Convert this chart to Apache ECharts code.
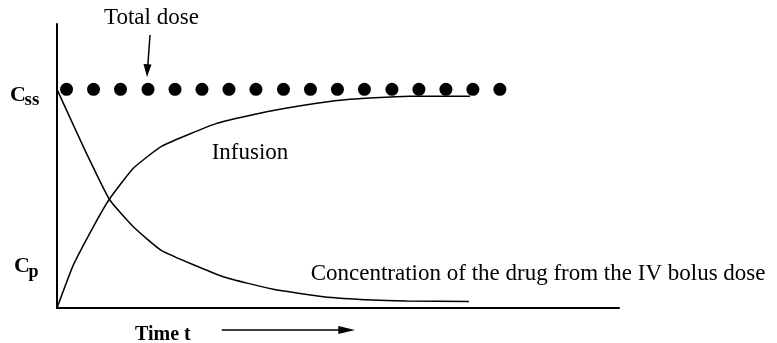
<!DOCTYPE html>
<html>
<head>
<meta charset="utf-8">
<script src="https://cdn.jsdelivr.net/npm/echarts@6/dist/echarts.min.js"></script>
<style>html,body{margin:0;padding:0;background:#fff}#c{width:777px;height:343px}</style>
</head>
<body>
<div id="c"></div>
<script>
// Total dose markers (time, level)
var doseTimes = [1.7, 6.5, 11.3, 16.2, 21.0, 25.8, 30.6, 35.4, 40.3, 45.1, 49.9, 54.7, 59.6, 64.4, 69.2, 74.0, 78.8];
var doseLevel = 77.0;
// IV bolus concentration curve
var bolusT = [0, 4.68, 9.31, 13.58, 18.63, 29.59, 38.49, 47.38, 56.23, 62.22, 73.3];
var bolusC = [77.0, 56.8, 38.3, 28.6, 20.2, 11.0, 6.6, 4.0, 2.8, 2.5, 2.3];
// Infusion curve
var infT = [0, 2.9, 6.46, 9.31, 13.58, 18.68, 28.42, 37.31, 46.21, 52.14, 62.81, 73.49];
var infC = [0, 15.1, 28.6, 38.3, 49.2, 57.0, 65.0, 69.1, 72.1, 73.5, 74.6, 74.6];

function pairs(a, b) { return a.map(function (v, i) { return [v, b[i]]; }); }
var dots = doseTimes.map(function (t) { return [t, doseLevel]; });

var serif = '"Liberation Serif", "Times New Roman", serif';
function txt(text, x, y, size, bold) {
  return {
    type: 'text', x: x, y: y, silent: true,
    style: {
      text: text, fontFamily: serif, fontSize: size, fontWeight: bold ? 'bold' : 'normal',
      fill: '#000', align: 'left', verticalAlign: 'middle'
    }
  };
}

var chart = echarts.init(document.getElementById('c'), null, { renderer: 'canvas' });
chart.setOption({
  animation: false,
  backgroundColor: '#fff',
  grid: { left: 57, right: 158, top: 24, bottom: 35 },
  xAxis: {
    type: 'value', min: 0, max: 100,
    axisLine: { show: true, lineStyle: { color: '#000', width: 2 } },
    axisTick: { show: false }, axisLabel: { show: false }, splitLine: { show: false }
  },
  yAxis: {
    type: 'value', min: 0, max: 100,
    axisLine: { show: true, lineStyle: { color: '#000', width: 2 } },
    axisTick: { show: false }, axisLabel: { show: false }, splitLine: { show: false }
  },
  series: [
    {
      type: 'line', data: pairs(bolusT, bolusC), showSymbol: false, smooth: 0.15,
      lineStyle: { color: '#000', width: 1.5 }, silent: true
    },
    {
      type: 'line', data: pairs(infT, infC), showSymbol: false, smooth: 0.15,
      lineStyle: { color: '#000', width: 1.5 }, silent: true
    },
    {
      type: 'scatter', data: dots, symbol: 'circle', symbolSize: 13,
      itemStyle: { color: '#000', opacity: 1 }, silent: true, z: 5
    }
  ],
  graphic: [
    txt('Total dose', 104, 18.2, 23, false),
    txt('Infusion', 211.7, 153.2, 23, false),
    txt('Concentration of the drug from the IV bolus dose', 310.7, 274, 23, false),
    txt('C', 10, 95.3, 22, true),
    txt('ss', 24.5, 100.3, 19, true),
    txt('C', 14, 266.6, 22, true),
    txt('p', 28.5, 271.9, 18, true),
    txt('Time t', 135, 335, 20, true),
    { type: 'line', shape: { x1: 150, y1: 35, x2: 147.8, y2: 66 }, style: { stroke: '#000', lineWidth: 1.5 }, silent: true },
    { type: 'polygon', shape: { points: [[143.5, 64], [151.5, 64.6], [147, 77]] }, style: { fill: '#000' }, silent: true },
    { type: 'line', shape: { x1: 221.7, y1: 330, x2: 340, y2: 330 }, style: { stroke: '#000', lineWidth: 1.5 }, silent: true },
    { type: 'polygon', shape: { points: [[338.3, 326], [355, 330], [338.3, 334]] }, style: { fill: '#000' }, silent: true }
  ]
});
</script>
</body>
</html>
